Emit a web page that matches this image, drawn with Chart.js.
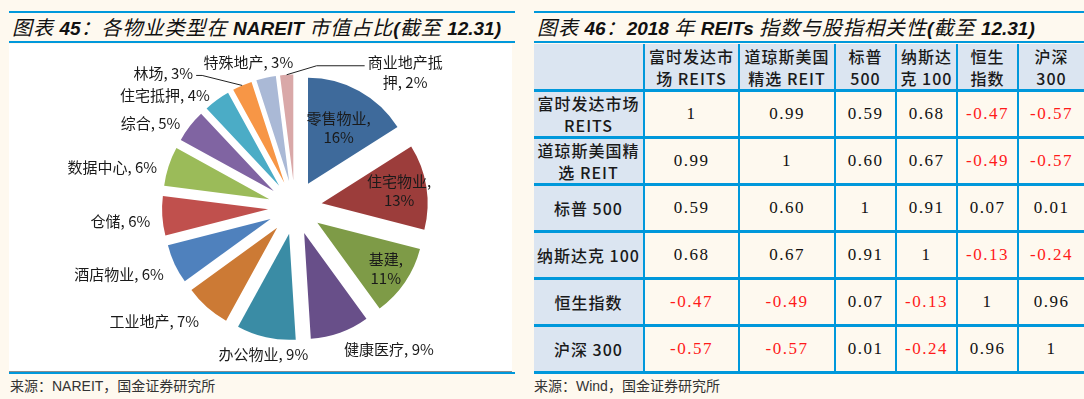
<!DOCTYPE html>
<html lang="zh-CN">
<head>
<meta charset="utf-8">
<title>NAREIT 物业类型市值占比 / REITs 指数与股指相关性</title>
<script src="https://cdn.jsdelivr.net/npm/chart.js@4"></script>
<style>
  html, body { margin: 0; padding: 0; }
  body {
    width: 1084px; height: 399px; position: relative; overflow: hidden;
    background: #fef9ef;
    font-family: "Noto Sans CJK SC", sans-serif;
  }
  .bar { position: absolute; height: 2px; background: #0098db; }
  .title {
    position: absolute; top: 13px; height: 28px; line-height: 28px;
    white-space: nowrap; font-style: italic; font-size: 20px; color: #111;
  }
  .title span { letter-spacing: 1px; }
  .title b { font-family: "Liberation Sans", Arial, sans-serif; font-weight: bold; font-size: 19px; }
  #pieBox { position: absolute; left: 9px; top: 44px; width: 503px; height: 327px; background: #fff; }
  .src { position: absolute; top: 375px; font-size: 14px; color: #333; white-space: nowrap; }
  .src i { font-style: normal; font-family: "Liberation Sans", Arial, sans-serif; }
  .cell {
    position: absolute; display: flex; align-items: center; justify-content: center;
    text-align: center; white-space: pre; line-height: 22px; color: #1a1a1a;
  }
  .head { background: #dbe5f1; font-size: 16px; letter-spacing: 1px; font-weight: 500; }
  .num { font-family: "Liberation Serif", serif; font-size: 17px; letter-spacing: 1.5px; color: #111; }
  .neg { color: #ff1a1a; }
  .hl { position: absolute; height: 3px; background: #0098db; }
  .vl { position: absolute; width: 2px; background: #0098db; }
</style>
</head>
<body>

<!-- 左：图表 45 -->
<div class="bar" style="left:9px; top:11px; width:506px"></div>
<div class="title" style="left:12px"><span>图表 </span><b>45</b><span>：各物业类型在 </span><b>NAREIT</b><span> 市值占比</span><b>(</b><span>截至 </span><b>12.31)</b></div>
<div class="bar" style="left:9px; top:41px; width:506px"></div>
<div id="pieBox"><canvas id="pie"></canvas></div>
<div style="position:absolute; left:9px; top:371px; width:503px; height:1px; background:#8c8c8c"></div>
<div class="bar" style="left:9px; top:372px; width:506px"></div>
<div class="src" style="left:10px">来源：<i>NAREIT</i>，国金证券研究所</div>

<!-- 右：图表 46 -->
<div class="bar" style="left:534px; top:11px; width:550px"></div>
<div class="title" style="left:537px"><span>图表 </span><b>46</b><span>：</span><b>2018 </b><span>年 </span><b>REITs </b><span>指数与股指相关性</span><b>(</b><span>截至 </span><b>12.31)</b></div>
<div class="bar" style="left:534px; top:41px; width:550px"></div>
<div id="tbl"></div>
<div class="src" style="left:534px">来源：<i>Wind</i>，国金证券研究所</div>

<script>
// 图表 45 数据
const categories = ['零售物业', '住宅物业', '基建', '健康医疗', '办公物业', '工业地产', '酒店物业',
                    '仓储', '数据中心', '综合', '住宅抵押', '林场', '特殊地产', '商业地产抵押'];
const shares = [16, 13, 11, 9, 9, 7, 6, 6, 6, 5, 4, 3, 3, 2];

// 图表 46 数据
const colHeads = ['富时发达市\n场 REITS', '道琼斯美国\n精选 REIT', '标普\n500', '纳斯达\n克 100', '恒生\n指数', '沪深\n300'];
const rowHeads = ['富时发达市场\nREITS', '道琼斯美国精\n选 REIT', '标普 500', '纳斯达克 100', '恒生指数', '沪深 300'];
const corrFtse  = [1, 0.99, 0.59, 0.68, -0.47, -0.57];
const corrDj    = [0.99, 1, 0.60, 0.67, -0.49, -0.57];
const corrSp    = [0.59, 0.60, 1, 0.91, 0.07, 0.01];
const corrNdx   = [0.68, 0.67, 0.91, 1, -0.13, -0.24];
const corrHsi   = [-0.47, -0.49, 0.07, -0.13, 1, 0.96];
const corrHs300 = [-0.57, -0.57, 0.01, -0.24, 0.96, 1];

const sliceColors = ['#3e6a9b', '#9c3d3b', '#7e9b47', '#684f89', '#3a8ca5', '#cc7a35', '#4f81bd',
                     '#c0504d', '#9bbb59', '#8064a2', '#4bacc6', '#f79646', '#aab9d6', '#d9a8a8'];

// 标签放置方式：in = 扇区内两行，out = 扇区外，leader = 带引导线
const labelPlacement = [
  {mode: 'in', k: 0.6}, {mode: 'in', k: 0.74}, {mode: 'in', k: 0.78},
  {mode: 'out'}, {mode: 'out'}, {mode: 'out'}, {mode: 'out'}, {mode: 'out'},
  {mode: 'out'}, {mode: 'out'}, {mode: 'out'},
  {mode: 'leader', dx: -40, dy: -10, run: -6},
  {mode: 'out', nx: -15, ny: -9},
  {mode: 'leader', dx: 30, dy: -9, run: 48, wrap: 5}
];

const EXPLODE = 27;

// 每个扇区沿中线方向外移（分离饼图）
const explodePlugin = {
  id: 'explode',
  beforeDatasetDraw(chart, args) {
    const ctx = chart.ctx;
    args.meta.data.forEach(arc => {
      const mid = (arc.startAngle + arc.endAngle) / 2;
      ctx.save();
      ctx.translate(Math.cos(mid) * EXPLODE, Math.sin(mid) * EXPLODE);
      arc.draw(ctx, chart.chartArea);
      ctx.restore();
    });
    return false;
  }
};

const labelPlugin = {
  id: 'sliceLabels',
  afterDatasetsDraw(chart) {
    const ctx = chart.ctx;
    const arcs = chart.getDatasetMeta(0).data;
    ctx.save();
    ctx.font = '15px "Noto Sans CJK SC", sans-serif';
    ctx.fillStyle = '#1a1a1a';
    ctx.strokeStyle = '#222';
    ctx.lineWidth = 1;
    arcs.forEach((arc, i) => {
      const mid = (arc.startAngle + arc.endAngle) / 2;
      const ux = Math.cos(mid), uy = Math.sin(mid);
      const cx = arc.x + ux * EXPLODE, cy = arc.y + uy * EXPLODE;
      const r = arc.outerRadius;
      const p = labelPlacement[i];
      const text = categories[i] + ', ' + shares[i] + '%';
      ctx.textBaseline = 'middle';
      if (p.mode === 'in') {
        const x = cx + ux * r * p.k, y = cy + uy * r * p.k;
        ctx.textAlign = 'center';
        ctx.fillText(categories[i] + ',', x, y - 9.5);
        ctx.fillText(shares[i] + '%', x, y + 9.5);
      } else if (p.mode === 'out') {
        const x = cx + ux * (r + 12) + (p.nx || 0);
        const y = cy + uy * (r + 12) + 5 + (p.ny || 0);
        ctx.textAlign = ux > 0.3 ? 'left' : (ux < -0.3 ? 'right' : 'center');
        ctx.fillText(text, x, y);
      } else {
        const x0 = cx + ux * r, y0 = cy + uy * r;
        const x1 = x0 + p.dx, y1 = y0 + p.dy;
        const x2 = x1 + p.run;
        ctx.beginPath();
        ctx.moveTo(x0, y0);
        ctx.lineTo(x1, y1);
        ctx.lineTo(x2, y1);
        ctx.stroke();
        let lines = [text];
        if (p.wrap) lines = [text.slice(0, p.wrap), text.slice(p.wrap)];
        if (p.run < 0) {
          ctx.textAlign = 'right';
          lines.forEach((ln, j) => ctx.fillText(ln, x2 - 3, y1 - 2 + j * 20));
        } else {
          const bw = Math.max(...lines.map(ln => ctx.measureText(ln).width));
          ctx.textAlign = 'center';
          lines.forEach((ln, j) => ctx.fillText(ln, x2 + 3 + bw / 2, y1 - 3 + j * 20));
        }
      }
    });
    ctx.restore();
  }
};

new Chart(document.getElementById('pie'), {
  type: 'pie',
  data: {
    labels: categories,
    datasets: [{
      data: shares,
      backgroundColor: sliceColors,
      borderWidth: 0
    }]
  },
  options: {
    responsive: true,
    maintainAspectRatio: false,
    animation: false,
    radius: 106,
    layout: { padding: { left: 69 } },
    plugins: {
      legend: { display: false },
      tooltip: { enabled: false }
    }
  },
  plugins: [explodePlugin, labelPlugin]
});

// 相关性表格
const corrRows = [corrFtse, corrDj, corrSp, corrNdx, corrHsi, corrHs300];
const colW = [109, 93, 94, 59, 59, 59, 65];
const rowH = [45, 44, 44, 44, 44, 44, 44];
const tbl = document.getElementById('tbl');
const X0 = 534, Y0 = 44;

function addDiv(cls, left, top, w, h, txt) {
  const d = document.createElement('div');
  d.className = cls;
  d.style.left = left + 'px'; d.style.top = top + 'px';
  d.style.width = w + 'px'; d.style.height = h + 'px';
  if (txt !== undefined) d.textContent = txt;
  tbl.appendChild(d);
  return d;
}

let y = Y0;
for (let r = 0; r < 7; r++) {
  let x = X0;
  for (let c = 0; c < 7; c++) {
    let cls = 'cell', txt = '';
    if (r === 0 || c === 0) {
      cls += ' head';
      if (r === 0 && c > 0) txt = colHeads[c - 1];
      if (c === 0 && r > 0) txt = rowHeads[r - 1];
    } else {
      const v = corrRows[r - 1][c - 1];
      txt = v === 1 ? '1' : v.toFixed(2);
      cls += ' num' + (v < 0 ? ' neg' : '');
    }
    addDiv(cls, x, y, colW[c], rowH[r], txt);
    x += colW[c] + 2;
  }
  y += rowH[r];
  addDiv('hl', X0, y, 550, 3);
  y += 3;
}
let vx = X0;
for (let c = 0; c < 6; c++) {
  vx += colW[c];
  addDiv('vl', vx, Y0, 2, y - Y0);
  vx += 2;
}
</script>
</body>
</html>
